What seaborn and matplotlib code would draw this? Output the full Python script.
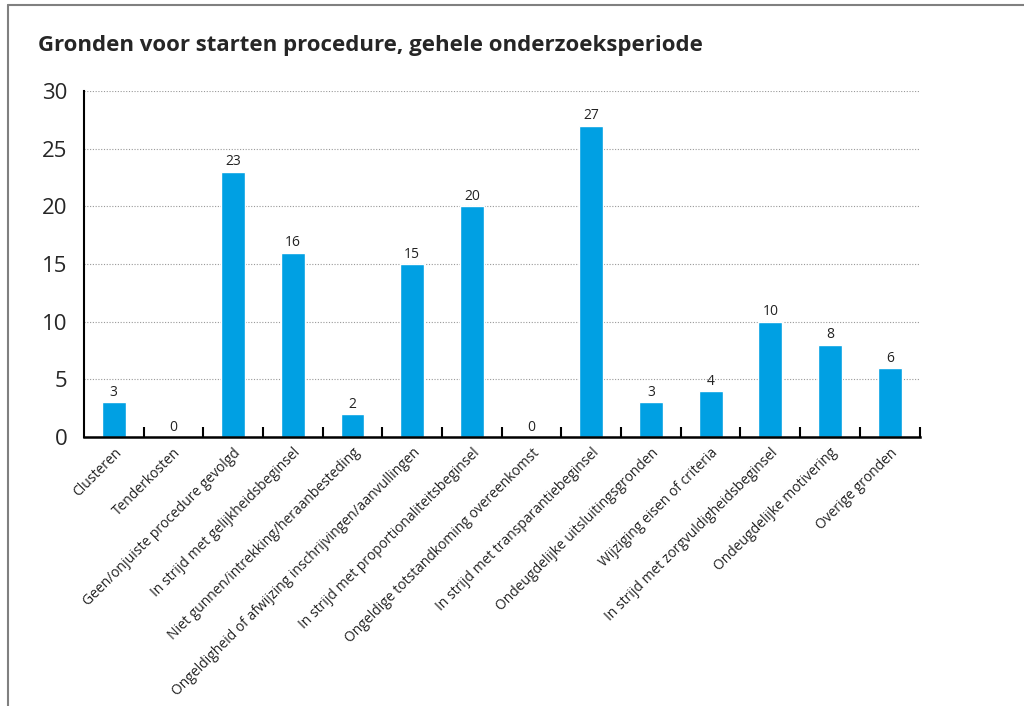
import matplotlib
matplotlib.use('Agg')
import matplotlib.pyplot as plt
import seaborn as sns
import pandas as pd
from matplotlib.lines import Line2D

# Gegevens
gronden = [
    'Clusteren',
    'Tenderkosten',
    'Geen/onjuiste procedure gevolgd',
    'In strijd met gelijkheidsbeginsel',
    'Niet gunnen/intrekking/heraanbesteding',
    'Ongeldigheid of afwijzing inschrijvingen/aanvullingen',
    'In strijd met proportionaliteitsbeginsel',
    'Ongeldige totstandkoming overeenkomst',
    'In strijd met transparantiebeginsel',
    'Ondeugdelijke uitsluitingsgronden',
    'Wijziging eisen of criteria',
    'In strijd met zorgvuldigheidsbeginsel',
    'Ondeugdelijke motivering',
    'Overige gronden',
]
aantallen = [3, 0, 23, 16, 2, 15, 20, 0, 27, 3, 4, 10, 8, 6]
y_ticks = [0, 5, 10, 15, 20, 25, 30]

df = pd.DataFrame({'Grond': gronden, 'Aantal': aantallen})

sns.set_theme(style='white')
plt.rcParams['font.family'] = ['Open Sans', 'DejaVu Sans']

fig = plt.figure(figsize=(10.24, 7.06), dpi=100)
ax = fig.add_axes([0.082, 0.381, 0.816, 0.490])

sns.barplot(data=df, x='Grond', y='Aantal', color='#00A0E3', width=0.4,
            saturation=1, ax=ax)

# waarden boven de balken
for i, v in enumerate(aantallen):
    ax.text(i, v + 0.2, str(v), ha='center', va='bottom', fontsize=10, color='#222222')

ax.set_xlim(-0.5, len(gronden) - 0.5)
ax.set_ylim(0, 30)
ax.set_yticks(y_ticks)
ax.set_yticklabels([str(t) for t in y_ticks], fontsize=16)
ax.yaxis.grid(True, linestyle=(0, (1, 1.5)), color='#999999', linewidth=0.8)
ax.set_axisbelow(True)

# tick-streepjes tussen categorieen
ax.set_xticks([i + 0.5 for i in range(len(gronden))], minor=True)
ax.tick_params(axis='x', which='minor', direction='in', length=7, width=1.5,
               color='black', bottom=True)
ax.tick_params(axis='x', which='major', length=0, pad=6)
ax.tick_params(axis='y', length=0, pad=12)
ax.set_xticks(range(len(gronden)))
ax.set_xticklabels(gronden, rotation=45, ha='right', rotation_mode='anchor',
                   fontsize=10, color='#222222')

ax.set_xlabel('')
ax.set_ylabel('')
for s in ['top', 'right']:
    ax.spines[s].set_visible(False)
ax.spines['left'].set_color('black')
ax.spines['left'].set_linewidth(1.5)
ax.spines['bottom'].set_color('black')
ax.spines['bottom'].set_linewidth(1.8)

fig.text(0.037, 0.935, 'Gronden voor starten procedure, gehele onderzoeksperiode',
         fontsize=16, fontweight='bold', ha='left', va='center')

# kader boven en links
fig.add_artist(Line2D([0.008, 1.0], [0.993, 0.993], color='#808080', linewidth=1.5))
fig.add_artist(Line2D([0.008, 0.008], [0.0, 0.993], color='#808080', linewidth=1.5))

fig.savefig('out.png', dpi=100)
